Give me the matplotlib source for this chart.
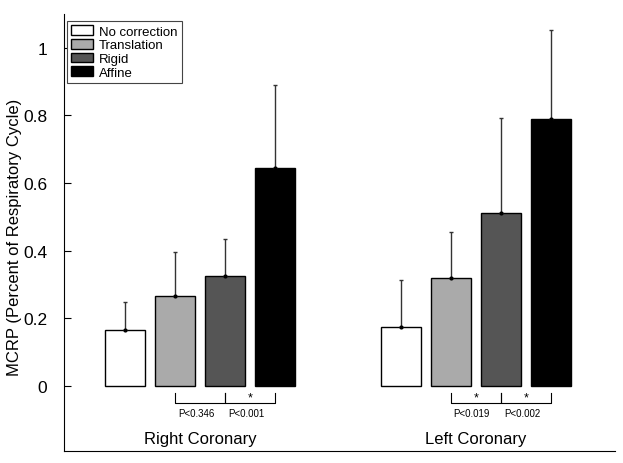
import numpy as np
import matplotlib
matplotlib.use("Agg")
import matplotlib.pyplot as plt

plt.rcParams['font.family'] = ['Liberation Sans', 'DejaVu Sans']

# -----------------------------
# values
# -----------------------------
groups = ['Right Coronary', 'Left Coronary']
methods = ['No correction', 'Translation', 'Rigid', 'Affine']
colors = ['white', '#aaaaaa', '#555555', 'black']

mean_rc = [0.166, 0.266, 0.325, 0.645]
err_rc = [0.083, 0.130, 0.110, 0.245]
mean_lc = [0.175, 0.320, 0.512, 0.790]
err_lc = [0.139, 0.136, 0.281, 0.263]

p_rc = ['P<0.346', 'P<0.001']
sig_rc = [False, True]
p_lc = ['P<0.019', 'P<0.002']
sig_lc = [True, True]

group_x = [0.0, 5.52]
width = 0.8

fig = plt.figure(figsize=(6.23, 4.64), dpi=100)
ax = fig.add_axes([0.1027, 0.0259, 0.8843, 0.9418])

means = [mean_rc, mean_lc]
errs = [err_rc, err_lc]
pvals = [p_rc, p_lc]
sigs = [sig_rc, sig_lc]

for g in range(len(groups)):
  xs = group_x[g] + np.arange(len(methods))
  for k in range(len(methods)):
    lab = methods[k] if g == 0 else None
    ax.bar(xs[k], means[g][k], width=width, color=colors[k],
           edgecolor='black', linewidth=1.0, label=lab, zorder=2)
    ax.errorbar(xs[k], means[g][k], yerr=[[0], [errs[g][k]]], fmt='o',
                ms=2, color='black', ecolor='#333333', elinewidth=1.0,
                capsize=1.5, capthick=1.0, zorder=3)

  # significance brackets between neighbouring bars
  for b in range(2):
    x0, x1 = xs[b + 1], xs[b + 2]
    ax.plot([x0, x0, x1, x1], [-0.021, -0.05, -0.05, -0.021],
            color='black', lw=0.8, clip_on=False)
    mid = (x0 + x1) / 2
    if sigs[g][b]:
      ax.text(mid, -0.033, '*', ha='center', va='center', fontsize=9)
    ax.text(mid - 0.08, -0.08, pvals[g][b], ha='center', va='center',
            fontsize=7)

  ax.text(group_x[g] + 1.5, -0.154, groups[g], ha='center', va='center',
          fontsize=12)

ax.set_xlim(-1.22, 9.8)
ax.set_ylim(-0.192, 1.10)
ax.set_xticks([])
ax.set_yticks([0, 0.2, 0.4, 0.6, 0.8, 1])
ax.set_yticklabels(['0', '0.2', '0.4', '0.6', '0.8', '1'])
ax.tick_params(axis='y', direction='in', length=5, pad=12, labelsize=12.5)
ax.spines['top'].set_visible(False)
ax.spines['right'].set_visible(False)
fig.text(15 / 623, 1 - 237.5 / 464, 'MCRP (Percent of Respiratory Cycle)',
         rotation=90, ha='center', va='center', fontsize=12)

leg = ax.legend(loc='upper left', bbox_to_anchor=(0.005, 0.985),
                borderaxespad=0, fontsize=9.5, handlelength=1.65,
                handleheight=0.75, labelspacing=0.1, handletextpad=0.45,
                borderpad=0.35, fancybox=False, framealpha=1)
leg.get_frame().set_edgecolor('#444444')
leg.get_frame().set_linewidth(0.8)

fig.savefig('out.png', dpi=100)
